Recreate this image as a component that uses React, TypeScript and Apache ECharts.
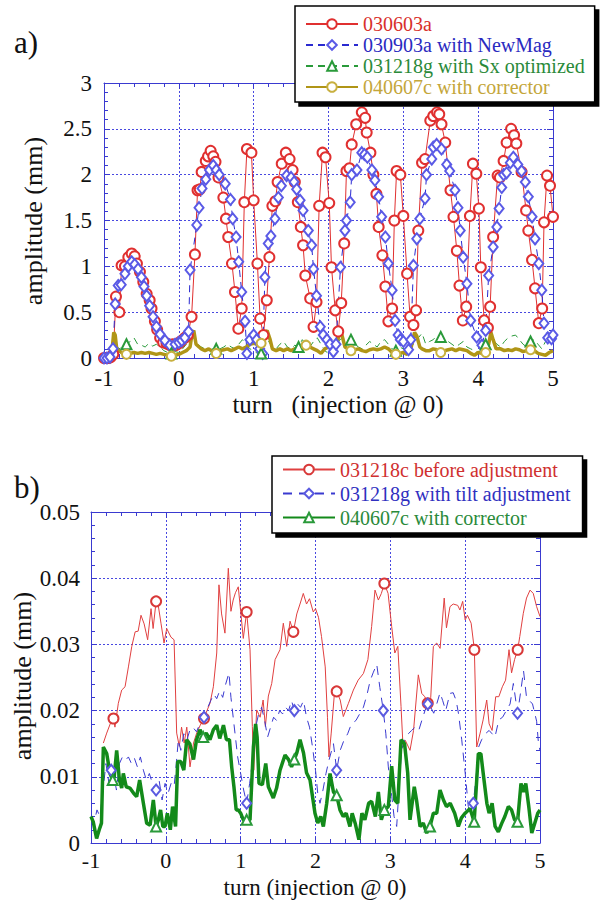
import React, { useEffect, useRef } from "react";
import * as echarts from "echarts";

// ---------- Chart a) data: [turn, amplitude (mm)] ----------
const redA: number[][] = [
  [-1.0, 0.0], [-0.97, 0.0], [-0.94, 0.0], [-0.91, 0.01], [-0.876, 0.04], [-0.84, 0.67], [-0.795, 0.5],
  [-0.765, 1.01], [-0.72, 1.0], [-0.675, 1.1], [-0.63, 1.14], [-0.59, 1.11], [-0.56, 1.03], [-0.52, 0.94],
  [-0.475, 0.83], [-0.43, 0.7], [-0.39, 0.63], [-0.365, 0.54], [-0.32, 0.4], [-0.29, 0.31], [-0.25, 0.22],
  [-0.21, 0.17], [-0.165, 0.16], [-0.12, 0.14], [-0.08, 0.15], [-0.04, 0.14], [0.0, 0.16], [0.025, 0.18],
  [0.08, 0.22], [0.12, 0.25], [0.17, 0.45], [0.215, 1.13], [0.25, 1.83], [0.28, 1.84], [0.305, 2.03],
  [0.36, 2.15], [0.39, 2.2], [0.425, 2.26], [0.46, 2.2], [0.49, 2.14], [0.53, 1.97], [0.595, 1.75],
  [0.63, 1.52], [0.66, 1.32], [0.71, 1.03], [0.75, 0.72], [0.795, 0.32], [0.84, 0.54], [0.875, 1.7],
  [0.91, 2.28], [0.97, 2.24], [1.0, 1.72], [1.05, 1.03], [1.086, 0.43], [1.13, 0.25], [1.175, 0.63],
  [1.21, 1.1], [1.25, 1.66], [1.29, 1.71], [1.32, 1.92], [1.375, 2.12], [1.43, 2.24], [1.48, 2.17],
  [1.52, 2.05], [1.55, 1.92], [1.59, 1.7], [1.63, 1.43], [1.66, 1.23], [1.69, 0.9], [1.755, 0.65],
  [1.8, 0.34], [1.84, 0.61], [1.875, 1.66], [1.92, 2.24], [1.96, 2.19], [2.01, 1.69], [2.04, 0.99],
  [2.09, 0.52], [2.13, 0.29], [2.17, 0.6], [2.21, 1.25], [2.24, 2.04], [2.28, 2.07], [2.31, 2.33],
  [2.37, 2.55], [2.445, 2.68], [2.49, 2.62], [2.51, 2.46], [2.56, 2.24], [2.6, 2.0], [2.64, 1.79],
  [2.67, 1.43], [2.72, 1.12], [2.76, 0.78], [2.8, 0.4], [2.85, 0.54], [2.88, 1.5], [2.91, 2.04],
  [2.96, 2.0], [3.0, 1.55], [3.05, 0.92], [3.09, 0.45], [3.135, 0.36], [3.17, 0.52], [3.2, 1.39],
  [3.25, 2.13], [3.29, 2.17], [3.36, 2.59], [3.4, 2.64], [3.45, 2.68], [3.48, 2.66], [3.51, 2.55],
  [3.56, 2.35], [3.63, 1.83], [3.67, 1.54], [3.715, 1.17], [3.75, 0.79], [3.795, 0.41], [3.84, 0.56],
  [3.89, 1.55], [3.93, 2.12], [3.975, 2.01], [4.01, 1.63], [4.035, 0.99], [4.08, 0.41], [4.13, 0.33],
  [4.16, 0.56], [4.2, 1.32], [4.26, 1.99], [4.29, 1.97], [4.34, 2.15], [4.38, 2.35], [4.44, 2.5],
  [4.48, 2.43], [4.51, 2.34], [4.58, 2.03], [4.64, 1.61], [4.67, 1.39], [4.72, 1.07], [4.76, 0.76],
  [4.81, 0.38], [4.855, 0.54], [4.88, 1.48], [4.92, 1.99], [4.96, 1.88], [5.0, 1.54],
];

const blueA: number[][] = [
  [-1.0, 0.0], [-0.96, 0.0], [-0.92, 0.01], [-0.88, 0.1], [-0.85, 0.59], [-0.81, 0.79], [-0.77, 0.8],
  [-0.72, 0.92], [-0.675, 1.0], [-0.63, 1.05], [-0.59, 1.02], [-0.545, 0.97], [-0.5, 0.88], [-0.465, 0.78],
  [-0.43, 0.68], [-0.39, 0.57], [-0.345, 0.45], [-0.3, 0.34], [-0.25, 0.26], [-0.185, 0.19], [-0.12, 0.14],
  [-0.05, 0.15], [0.0, 0.17], [0.04, 0.19], [0.08, 0.22], [0.13, 0.29], [0.15, 0.96], [0.24, 1.45],
  [0.27, 1.64], [0.31, 1.85], [0.36, 1.95], [0.41, 2.05], [0.46, 2.1], [0.5, 2.05], [0.54, 2.0],
  [0.62, 1.9], [0.69, 1.73], [0.72, 1.52], [0.765, 1.32], [0.8, 1.05], [0.84, 0.72], [0.885, 0.4],
  [0.91, 0.05], [0.95, 0.2], [1.0, 0.25], [1.04, 0.2], [1.08, 0.1], [1.12, 0.05], [1.15, 0.88],
  [1.195, 1.25], [1.23, 1.33], [1.285, 1.52], [1.33, 1.75], [1.37, 1.88], [1.44, 1.99], [1.5, 1.97],
  [1.54, 1.92], [1.575, 1.84], [1.62, 1.72], [1.66, 1.61], [1.73, 1.39], [1.775, 1.23], [1.8, 0.97],
  [1.84, 0.68], [1.89, 0.34], [1.93, 0.25], [1.98, 0.2], [2.02, 0.15], [2.065, 0.07], [2.1, 0.15],
  [2.16, 0.99], [2.22, 1.39], [2.24, 1.5], [2.29, 1.7], [2.31, 2.0], [2.38, 2.05], [2.445, 2.24],
  [2.48, 2.22], [2.52, 2.19], [2.58, 2.05], [2.62, 1.94], [2.67, 1.76], [2.71, 1.54], [2.76, 1.32],
  [2.8, 1.03], [2.85, 0.74], [2.89, 0.41], [2.93, 0.25], [2.96, 0.2], [3.0, 0.18], [3.07, 0.09],
  [3.1, 0.2], [3.135, 1.01], [3.18, 1.3], [3.22, 1.52], [3.29, 1.74], [3.31, 2.0], [3.38, 2.17],
  [3.4, 2.3], [3.445, 2.33], [3.51, 2.28], [3.58, 2.11], [3.62, 2.04], [3.69, 1.83], [3.73, 1.64],
  [3.76, 1.39], [3.8, 1.1], [3.85, 0.81], [3.9, 0.41], [3.98, 0.23], [4.05, 0.14], [4.1, 0.3],
  [4.14, 0.9], [4.2, 1.21], [4.25, 1.43], [4.28, 1.63], [4.315, 1.86], [4.34, 2.0], [4.38, 2.02],
  [4.43, 2.13], [4.47, 2.19], [4.53, 2.11], [4.58, 2.04], [4.63, 1.92], [4.67, 1.76], [4.72, 1.54],
  [4.76, 1.3], [4.81, 1.03], [4.85, 0.74], [4.88, 0.38], [4.93, 0.22], [4.98, 0.21], [5.0, 0.25],
];

const greenA: number[][] = [
  [-1.0, 0.0], [-0.95, 0.0], [-0.9, 0.02], [-0.87, 0.3], [-0.84, 0.15], [-0.8, 0.1], [-0.75, 0.12],
  [-0.7, 0.15], [-0.65, 0.18], [-0.6, 0.22], [-0.55, 0.15], [-0.5, 0.14], [-0.45, 0.12], [-0.4, 0.16],
  [-0.35, 0.13], [-0.3, 0.15], [-0.25, 0.12], [-0.2, 0.08], [-0.15, 0.06], [-0.1, 0.05], [-0.05, 0.07],
  [0.0, 0.06], [0.05, 0.1], [0.1, 0.15], [0.15, 0.18], [0.2, 0.22], [0.25, 0.15], [0.3, 0.12],
  [0.35, 0.1], [0.4, 0.08], [0.45, 0.1], [0.5, 0.1], [0.55, 0.1], [0.6, 0.12], [0.65, 0.15],
  [0.7, 0.12], [0.75, 0.1], [0.8, 0.15], [0.85, 0.2], [0.9, 0.15], [0.95, 0.1], [1.0, 0.08],
  [1.05, 0.05], [1.1, 0.05], [1.15, 0.2], [1.2, 0.18], [1.25, 0.12], [1.3, 0.1], [1.35, 0.15],
  [1.4, 0.18], [1.45, 0.12], [1.5, 0.1], [1.55, 0.14], [1.6, 0.12], [1.65, 0.2], [1.7, 0.15],
  [1.75, 0.12], [1.8, 0.18], [1.85, 0.22], [1.9, 0.15], [1.95, 0.08], [2.0, 0.05], [2.05, 0.08],
  [2.1, 0.12], [2.15, 0.2], [2.2, 0.22], [2.25, 0.18], [2.3, 0.2], [2.35, 0.15], [2.4, 0.12],
  [2.45, 0.1], [2.5, 0.14], [2.55, 0.18], [2.6, 0.15], [2.65, 0.12], [2.7, 0.18], [2.75, 0.2],
  [2.8, 0.15], [2.85, 0.1], [2.9, 0.08], [2.95, 0.12], [3.0, 0.1], [3.05, 0.06], [3.1, 0.1],
  [3.15, 0.18], [3.2, 0.22], [3.25, 0.27], [3.3, 0.15], [3.35, 0.18], [3.4, 0.2], [3.45, 0.25],
  [3.5, 0.23], [3.55, 0.2], [3.6, 0.18], [3.65, 0.15], [3.7, 0.12], [3.75, 0.15], [3.8, 0.18],
  [3.85, 0.12], [3.9, 0.1], [3.95, 0.08], [4.0, 0.06], [4.05, 0.1], [4.1, 0.15], [4.15, 0.18],
  [4.2, 0.2], [4.25, 0.15], [4.3, 0.12], [4.35, 0.18], [4.4, 0.22], [4.45, 0.24], [4.5, 0.25],
  [4.55, 0.2], [4.6, 0.15], [4.65, 0.12], [4.7, 0.18], [4.75, 0.2], [4.8, 0.15], [4.85, 0.1],
  [4.9, 0.18], [4.95, 0.22], [5.0, 0.2],
];
const greenAMarks = [-0.7, -0.1, 0.5, 1.1, 1.6, 2.3, 2.9, 3.5, 4.1, 4.7];

const goldA: number[][] = [
  [-1.0, 0.0], [-0.95, 0.0], [-0.9, 0.02], [-0.87, 0.28], [-0.85, 0.25], [-0.83, 0.1], [-0.8, 0.08],
  [-0.75, 0.05], [-0.7, 0.04], [-0.65, 0.05], [-0.6, 0.06], [-0.55, 0.05], [-0.5, 0.06], [-0.45, 0.05],
  [-0.4, 0.06], [-0.35, 0.05], [-0.3, 0.04], [-0.25, 0.05], [-0.2, 0.04], [-0.15, 0.03], [-0.1, 0.02],
  [-0.05, 0.03], [0.0, 0.04], [0.05, 0.06], [0.1, 0.08], [0.15, 0.12], [0.18, 0.28], [0.2, 0.3],
  [0.23, 0.15], [0.27, 0.12], [0.3, 0.1], [0.35, 0.08], [0.4, 0.1], [0.45, 0.07], [0.5, 0.05],
  [0.55, 0.08], [0.6, 0.09], [0.65, 0.1], [0.7, 0.08], [0.75, 0.1], [0.8, 0.12], [0.85, 0.1],
  [0.9, 0.12], [0.95, 0.15], [1.0, 0.16], [1.05, 0.15], [1.1, 0.16], [1.15, 0.28], [1.18, 0.3],
  [1.22, 0.2], [1.25, 0.1], [1.3, 0.08], [1.35, 0.1], [1.4, 0.08], [1.45, 0.1], [1.5, 0.08],
  [1.55, 0.1], [1.6, 0.12], [1.65, 0.1], [1.7, 0.14], [1.75, 0.12], [1.8, 0.1], [1.85, 0.08],
  [1.9, 0.05], [1.95, 0.1], [2.0, 0.12], [2.05, 0.15], [2.1, 0.12], [2.15, 0.28], [2.18, 0.25],
  [2.22, 0.12], [2.26, 0.1], [2.3, 0.08], [2.35, 0.09], [2.4, 0.1], [2.45, 0.08], [2.5, 0.07],
  [2.55, 0.09], [2.6, 0.1], [2.65, 0.09], [2.7, 0.1], [2.75, 0.12], [2.8, 0.1], [2.85, 0.06],
  [2.9, 0.04], [2.95, 0.05], [3.0, 0.06], [3.05, 0.04], [3.1, 0.1], [3.15, 0.28], [3.18, 0.24],
  [3.22, 0.12], [3.25, 0.1], [3.3, 0.08], [3.35, 0.08], [3.4, 0.1], [3.45, 0.09], [3.5, 0.06],
  [3.55, 0.08], [3.6, 0.09], [3.65, 0.1], [3.7, 0.08], [3.75, 0.1], [3.8, 0.09], [3.85, 0.08],
  [3.9, 0.05], [3.95, 0.03], [4.0, 0.06], [4.05, 0.05], [4.1, 0.06], [4.14, 0.15], [4.17, 0.28],
  [4.2, 0.2], [4.24, 0.1], [4.3, 0.1], [4.35, 0.08], [4.4, 0.09], [4.45, 0.08], [4.5, 0.1],
  [4.55, 0.09], [4.6, 0.07], [4.65, 0.08], [4.7, 0.09], [4.75, 0.08], [4.8, 0.05], [4.85, 0.04],
  [4.9, 0.03], [4.95, 0.06], [5.0, 0.08],
];
const goldAMarks = [-0.7, -0.1, 0.5, 1.1, 1.7, 2.3, 2.9, 3.5, 4.1, 4.7];

// ---------- Chart b) data ----------
const redB: number[][] = [
  [-0.835, 0.0151], [-0.79, 0.0166], [-0.733, 0.0183], [-0.7, 0.0188], [-0.68, 0.0175], [-0.635, 0.0211],
  [-0.59, 0.0231], [-0.545, 0.0236], [-0.5, 0.0266], [-0.455, 0.0297], [-0.41, 0.0319], [-0.37, 0.032],
  [-0.332, 0.0344], [-0.29, 0.0331], [-0.243, 0.0307], [-0.198, 0.0354], [-0.17, 0.0324], [-0.13, 0.0365],
  [-0.1, 0.0358], [-0.065, 0.0332], [-0.024, 0.0302], [0.012, 0.0324], [0.068, 0.0311], [0.11, 0.0307],
  [0.145, 0.0166], [0.18, 0.0146], [0.21, 0.0175], [0.245, 0.0151], [0.28, 0.0175], [0.323, 0.0115],
  [0.37, 0.0151], [0.412, 0.0166], [0.46, 0.0178], [0.51, 0.0188], [0.55, 0.02], [0.59, 0.0211],
  [0.635, 0.0236], [0.68, 0.0287], [0.71, 0.039], [0.745, 0.0346], [0.79, 0.0317], [0.835, 0.0415],
  [0.87, 0.035], [0.9, 0.0367], [0.93, 0.0378], [0.968, 0.0387], [1.0, 0.035], [1.035, 0.0309],
  [1.08, 0.0349], [1.125, 0.0292], [1.156, 0.0176], [1.175, 0.011], [1.214, 0.0201], [1.26, 0.019],
  [1.3, 0.0216], [1.33, 0.0176], [1.37, 0.0222], [1.415, 0.0241], [1.46, 0.0277], [1.526, 0.0292],
  [1.57, 0.0332], [1.615, 0.0297], [1.66, 0.0335], [1.704, 0.0319], [1.75, 0.0346], [1.793, 0.0361],
  [1.837, 0.0377], [1.88, 0.0361], [1.92, 0.0369], [1.97, 0.0349], [2.0, 0.0354], [2.04, 0.0341],
  [2.08, 0.0312], [2.13, 0.0266], [2.16, 0.019], [2.18, 0.013], [2.21, 0.0166], [2.25, 0.0222],
  [2.283, 0.0229], [2.33, 0.0216], [2.372, 0.0191], [2.44, 0.0211], [2.506, 0.0231], [2.57, 0.0246],
  [2.64, 0.0256], [2.7, 0.0277], [2.75, 0.0327], [2.795, 0.0382], [2.84, 0.0367], [2.88, 0.0377],
  [2.92, 0.0392], [2.97, 0.0377], [3.018, 0.0327], [3.06, 0.0287], [3.1, 0.0297], [3.143, 0.0206],
  [3.17, 0.0145], [3.2, 0.0155], [3.263, 0.014], [3.31, 0.017], [3.374, 0.0254], [3.42, 0.0226],
  [3.46, 0.0221], [3.5, 0.0211], [3.54, 0.022], [3.575, 0.0297], [3.62, 0.0302], [3.665, 0.0294],
  [3.72, 0.037], [3.75, 0.0325], [3.797, 0.0357], [3.84, 0.0361], [3.9, 0.0359], [3.93, 0.0352],
  [3.967, 0.0365], [4.0, 0.0337], [4.03, 0.0344], [4.08, 0.0332], [4.123, 0.0292], [4.154, 0.0145],
  [4.2, 0.0166], [4.24, 0.0186], [4.288, 0.0216], [4.32, 0.018], [4.36, 0.017], [4.408, 0.0221],
  [4.45, 0.0221], [4.497, 0.0236], [4.54, 0.0246], [4.586, 0.0292], [4.62, 0.0257], [4.66, 0.0277],
  [4.702, 0.0292], [4.73, 0.0312], [4.777, 0.0347], [4.82, 0.037], [4.867, 0.0382], [4.91, 0.0377],
  [4.955, 0.0357], [5.0, 0.0342],
];
const redBMarks = [-0.7, -0.13, 0.51, 1.08, 1.704, 2.283, 2.92, 3.5, 4.123, 4.702];

const blueB: number[][] = [
  [-1.0, 0.004], [-0.96, 0.003], [-0.92, 0.005], [-0.88, 0.004], [-0.84, 0.008], [-0.8, 0.012],
  [-0.76, 0.009], [-0.73, 0.011], [-0.7, 0.0105], [-0.66, 0.008], [-0.62, 0.012], [-0.58, 0.013],
  [-0.54, 0.0125], [-0.5, 0.013], [-0.46, 0.012], [-0.42, 0.0128], [-0.38, 0.0115], [-0.34, 0.013],
  [-0.3, 0.011], [-0.26, 0.0095], [-0.22, 0.0105], [-0.18, 0.009], [-0.13, 0.008], [-0.09, 0.0095],
  [-0.05, 0.0065], [-0.01, 0.009], [0.03, 0.0075], [0.07, 0.009], [0.11, 0.0085], [0.14, 0.012],
  [0.167, 0.0156], [0.2, 0.014], [0.24, 0.0165], [0.28, 0.0155], [0.32, 0.017], [0.36, 0.0175],
  [0.41, 0.0168], [0.46, 0.0182], [0.51, 0.019], [0.56, 0.0205], [0.6, 0.0215], [0.64, 0.0225],
  [0.68, 0.0218], [0.72, 0.023], [0.76, 0.022], [0.8, 0.024], [0.844, 0.0257], [0.87, 0.022],
  [0.9, 0.019], [0.93, 0.016], [0.96, 0.013], [1.0, 0.0105], [1.04, 0.008], [1.08, 0.006],
  [1.12, 0.009], [1.16, 0.0125], [1.2, 0.0175], [1.24, 0.0195], [1.28, 0.0205], [1.32, 0.0185],
  [1.36, 0.016], [1.4, 0.0175], [1.44, 0.019], [1.48, 0.0185], [1.52, 0.02], [1.56, 0.0195],
  [1.6, 0.0205], [1.64, 0.02], [1.68, 0.0215], [1.717, 0.02], [1.76, 0.021], [1.8, 0.0205],
  [1.84, 0.0215], [1.88, 0.019], [1.92, 0.0175], [1.96, 0.0145], [2.0, 0.011], [2.03, 0.0075],
  [2.06, 0.006], [2.1, 0.008], [2.14, 0.0105], [2.18, 0.0125], [2.24, 0.015], [2.283, 0.011],
  [2.33, 0.014], [2.38, 0.0155], [2.43, 0.0165], [2.48, 0.018], [2.54, 0.0185], [2.595, 0.0196],
  [2.64, 0.0205], [2.69, 0.0225], [2.73, 0.0245], [2.77, 0.0257], [2.818, 0.027], [2.86, 0.0235],
  [2.906, 0.02], [2.94, 0.0165], [2.973, 0.0115], [3.02, 0.007], [3.05, 0.004], [3.085, 0.0025],
  [3.12, 0.009], [3.15, 0.014], [3.2, 0.016], [3.24, 0.0165], [3.285, 0.017], [3.33, 0.0175],
  [3.38, 0.017], [3.42, 0.0185], [3.463, 0.02], [3.5, 0.021], [3.54, 0.0205], [3.58, 0.0196],
  [3.62, 0.021], [3.664, 0.0227], [3.7, 0.0215], [3.74, 0.02], [3.797, 0.0226], [3.84, 0.0227],
  [3.88, 0.0215], [3.91, 0.0196], [3.954, 0.0156], [4.0, 0.0106], [4.042, 0.0055], [4.07, 0.0045],
  [4.109, 0.006], [4.15, 0.0105], [4.18, 0.0145], [4.22, 0.0156], [4.27, 0.0165], [4.32, 0.017],
  [4.36, 0.0165], [4.398, 0.016], [4.45, 0.0186], [4.5, 0.019], [4.55, 0.02], [4.6, 0.021],
  [4.644, 0.0241], [4.7, 0.0196], [4.74, 0.0227], [4.78, 0.026], [4.82, 0.022], [4.86, 0.0215],
  [4.9, 0.021], [4.955, 0.0184], [4.98, 0.015], [5.0, 0.014],
];
const blueBMarks = [-0.73, -0.13, 0.51, 1.08, 1.717, 2.283, 2.906, 3.5, 4.109, 4.7];

const greenB: number[][] = [
  [-1.0, 0.004], [-0.97, 0.0032], [-0.94, 0.0015], [-0.925, 0.0007], [-0.89, 0.002], [-0.86, 0.003],
  [-0.835, 0.0145], [-0.79, 0.0135], [-0.746, 0.0105], [-0.71, 0.0095], [-0.69, 0.01], [-0.657, 0.014],
  [-0.62, 0.0095], [-0.59, 0.0083], [-0.568, 0.0105], [-0.53, 0.0085], [-0.48, 0.0083], [-0.43, 0.0075],
  [-0.39, 0.007], [-0.35, 0.0095], [-0.3, 0.006], [-0.256, 0.003], [-0.21, 0.0027], [-0.167, 0.0065],
  [-0.13, 0.0025], [-0.1, 0.0035], [-0.07, 0.005], [-0.04, 0.0025], [-0.011, 0.0025], [0.02, 0.0045],
  [0.06, 0.002], [0.09, 0.0055], [0.13, 0.0025], [0.158, 0.0123], [0.2, 0.0123], [0.24, 0.011],
  [0.279, 0.0156], [0.32, 0.015], [0.37, 0.0126], [0.41, 0.0156], [0.457, 0.0171], [0.5, 0.016],
  [0.54, 0.0166], [0.59, 0.0156], [0.635, 0.0171], [0.68, 0.0178], [0.72, 0.0158], [0.77, 0.0178],
  [0.81, 0.0156], [0.85, 0.0156], [0.88, 0.0115], [0.91, 0.0085], [0.94, 0.005], [0.968, 0.005],
  [1.0, 0.0045], [1.035, 0.0035], [1.08, 0.0035], [1.125, 0.0035], [1.17, 0.0145], [1.2, 0.018],
  [1.22, 0.016], [1.245, 0.009], [1.29, 0.0088], [1.335, 0.012], [1.37, 0.0085], [1.436, 0.0068],
  [1.48, 0.0083], [1.526, 0.011], [1.593, 0.0133], [1.64, 0.0126], [1.68, 0.0115], [1.717, 0.0126],
  [1.75, 0.0136], [1.793, 0.0156], [1.84, 0.0136], [1.88, 0.0106], [1.927, 0.0095], [1.993, 0.0045],
  [2.03, 0.003], [2.07, 0.004], [2.105, 0.0025], [2.15, 0.006], [2.194, 0.0105], [2.24, 0.0077],
  [2.283, 0.0072], [2.327, 0.005], [2.37, 0.004], [2.41, 0.0045], [2.46, 0.0025], [2.49, 0.0045],
  [2.53, 0.003], [2.58, 0.0005], [2.62, 0.0045], [2.66, 0.0035], [2.71, 0.006], [2.75, 0.0063],
  [2.8, 0.004], [2.84, 0.0077], [2.88, 0.0035], [2.92, 0.005], [2.973, 0.0055], [3.018, 0.0116],
  [3.06, 0.0065], [3.1, 0.006], [3.143, 0.0156], [3.19, 0.015], [3.232, 0.0106], [3.263, 0.0035],
  [3.32, 0.0085], [3.35, 0.0065], [3.397, 0.0025], [3.44, 0.003], [3.486, 0.0015], [3.53, 0.0025],
  [3.575, 0.0045], [3.62, 0.0045], [3.664, 0.008], [3.71, 0.0065], [3.75, 0.0055], [3.8, 0.006],
  [3.86, 0.0045], [3.909, 0.0025], [3.95, 0.0038], [4.0, 0.0045], [4.065, 0.0052], [4.12, 0.0032],
  [4.176, 0.0135], [4.21, 0.0135], [4.24, 0.0106], [4.29, 0.006], [4.32, 0.0045], [4.36, 0.006],
  [4.4, 0.0025], [4.443, 0.0017], [4.49, 0.003], [4.53, 0.004], [4.577, 0.0055], [4.62, 0.005],
  [4.66, 0.0035], [4.7, 0.0032], [4.746, 0.009], [4.78, 0.0077], [4.81, 0.009], [4.85, 0.0055],
  [4.89, 0.0015], [4.93, 0.003], [4.97, 0.0045], [5.0, 0.005],
];
const greenBMarks = [-0.71, -0.13, 0.5, 1.08, 1.717, 2.283, 2.92, 3.53, 4.12, 4.7];

const xTicks = [-1, 0, 1, 2, 3, 4, 5];
const yTicksA = [0, 0.5, 1, 1.5, 2, 2.5, 3];
const yTicksB = [0, 0.01, 0.02, 0.03, 0.04, 0.05];

const SERIF = "Liberation Serif";
const AXIS_BLUE = "#3a3ad0";

function marked(pts: number[][], marks: number[] | null) {
  return pts.map(([x, y]) => {
    if (!marks || marks.some((m) => Math.abs(m - x) < 1e-6)) return [x, y];
    return { value: [x, y], symbol: "none" };
  });
}

function makeX(gridIndex: number, ticks: number[], top: boolean, margin: number, size: number) {
  return {
    gridIndex,
    type: "value",
    position: top ? "top" : "bottom",
    min: ticks[0],
    max: ticks[ticks.length - 1],
    interval: ticks[1] - ticks[0],
    axisLine: { show: true, onZero: false, lineStyle: { color: AXIS_BLUE, width: 1 } },
    axisTick: { show: true, inside: true, length: 6, lineStyle: { color: AXIS_BLUE } },
    minorTick: { show: true, splitNumber: 5, length: 4, lineStyle: { color: AXIS_BLUE } },
    splitLine: { show: !top, lineStyle: { color: "#4848e0", type: [2, 2], width: 1 } },
    axisLabel: {
      show: !top,
      fontFamily: SERIF,
      fontSize: size,
      color: "#111",
      margin,
    },
  };
}

function makeY(gridIndex: number, ticks: number[], right: boolean, margin: number) {
  return {
    gridIndex,
    type: "value",
    position: right ? "right" : "left",
    min: ticks[0],
    max: ticks[ticks.length - 1],
    interval: ticks[1] - ticks[0],
    axisLine: { show: true, onZero: false, lineStyle: { color: AXIS_BLUE, width: 1 } },
    axisTick: { show: true, inside: true, length: 6, lineStyle: { color: AXIS_BLUE } },
    minorTick: { show: true, splitNumber: 5, length: 4, lineStyle: { color: AXIS_BLUE } },
    splitLine: { show: !right, lineStyle: { color: "#4848e0", type: [2, 2], width: 1 } },
    axisLabel: {
      show: !right,
      fontFamily: SERIF,
      fontSize: 23,
      color: "#111",
      margin,
    },
  };
}

function centeredText(text: string, x: number, y: number, size: number, rotate: boolean) {
  return {
    type: "text",
    x,
    y,
    rotation: rotate ? Math.PI / 2 : 0,
    style: {
      text,
      fontFamily: SERIF,
      fontSize: size,
      fill: "#111",
      textAlign: "center",
      textVerticalAlign: "middle",
      align: "center",
      verticalAlign: "middle",
    },
  };
}

export default function App() {
  const ref = useRef<HTMLDivElement>(null);

  useEffect(() => {
    if (!ref.current) return;
    const chart = echarts.init(ref.current, null, { renderer: "svg" });

    const legendBase = {
      orient: "vertical",
      backgroundColor: "#fff",
      borderColor: "#000",
      borderWidth: 1.5,
      borderRadius: 0,
      shadowColor: "#000",
      shadowBlur: 0,
      shadowOffsetX: 4,
      shadowOffsetY: 4,
      itemWidth: 52,
      itemHeight: 12,
      selectedMode: false,
    };

    const option: any = {
      animation: false,
      backgroundColor: "#fff",
      textStyle: { fontFamily: SERIF },
      grid: [
        { left: 104, top: 83, width: 449, height: 275 },
        { left: 91, top: 512, width: 449, height: 331 },
      ],
      xAxis: [
        makeX(0, xTicks, false, 9, 23),
        makeX(0, xTicks, true, 9, 23),
        makeX(1, xTicks, false, 6, 22),
        makeX(1, xTicks, true, 6, 22),
      ],
      yAxis: [
        makeY(0, yTicksA, false, 12),
        makeY(0, yTicksA, true, 12),
        makeY(1, yTicksB, false, 11),
        makeY(1, yTicksB, true, 11),
      ],
      legend: [
        {
          ...legendBase,
          left: 295,
          top: 6,
          padding: [8, 10, 5, 10],
          itemGap: 1,
          textStyle: { fontFamily: SERIF, fontSize: 20, lineHeight: 20 },
          data: [
            { name: "030603a", textStyle: { color: "#d8302c" } },
            { name: "030903a with NewMag", textStyle: { color: "#2a2ac0" } },
            { name: "031218g with Sx optimized", textStyle: { color: "#2a8a3a" } },
            { name: "040607c with corrector", textStyle: { color: "#c4a63a" } },
          ],
        },
        {
          ...legendBase,
          left: 272,
          top: 456,
          padding: [2, 12, 4, 10],
          itemGap: 1,
          textStyle: { fontFamily: SERIF, fontSize: 20, lineHeight: 23 },
          data: [
            { name: "031218c before adjustment", textStyle: { color: "#d03030" } },
            { name: "031218g with tilt adjustment", textStyle: { color: "#3030c0" } },
            { name: "040607c with corrector ", textStyle: { color: "#2a8a3a" } },
          ],
        },
      ],
      series: [
        {
          name: "030603a",
          type: "line",
          xAxisIndex: 0,
          yAxisIndex: 0,
          data: marked(redA, null),
          symbol: "emptyCircle",
          symbolSize: 10,
          lineStyle: { color: "#e03030", width: 1 },
          itemStyle: { color: "#e03030", borderWidth: 1 },
        },
        {
          name: "030903a with NewMag",
          type: "line",
          xAxisIndex: 0,
          yAxisIndex: 0,
          data: marked(blueA, null),
          symbol: "emptyDiamond",
          symbolSize: [9, 11],
          lineStyle: { color: "#2a2ad0", width: 1, type: [7, 5] },
          itemStyle: { color: "#5a5ae6", borderWidth: 1 },
        },
        {
          name: "031218g with Sx optimized",
          type: "line",
          xAxisIndex: 0,
          yAxisIndex: 0,
          data: marked(greenA, greenAMarks),
          symbol: "emptyTriangle",
          symbolSize: 10,
          lineStyle: { color: "#2a9a3a", width: 1, type: [7, 5] },
          itemStyle: { color: "#2a9a3a", borderWidth: 1 },
        },
        {
          name: "040607c with corrector",
          type: "line",
          xAxisIndex: 0,
          yAxisIndex: 0,
          data: marked(goldA, goldAMarks),
          symbol: "emptyCircle",
          symbolSize: 9,
          lineStyle: { color: "#b09516", width: 3.5 },
          itemStyle: { color: "#c8b040", borderWidth: 1 },
        },
        {
          name: "031218c before adjustment",
          type: "line",
          xAxisIndex: 2,
          yAxisIndex: 2,
          data: marked(redB, redBMarks),
          symbol: "emptyCircle",
          symbolSize: 10,
          lineStyle: { color: "#e04040", width: 1 },
          itemStyle: { color: "#d83838", borderWidth: 1 },
        },
        {
          name: "031218g with tilt adjustment",
          type: "line",
          xAxisIndex: 2,
          yAxisIndex: 2,
          data: marked(blueB, blueBMarks),
          symbol: "emptyDiamond",
          symbolSize: [9, 11],
          lineStyle: { color: "#3a3ad0", width: 1, type: [9, 7] },
          itemStyle: { color: "#5a5ae0", borderWidth: 1 },
        },
        {
          name: "040607c with corrector ",
          type: "line",
          xAxisIndex: 2,
          yAxisIndex: 2,
          data: marked(greenB, greenBMarks),
          symbol: "emptyTriangle",
          symbolSize: 10,
          lineStyle: { color: "#138a1a", width: 3.5 },
          itemStyle: { color: "#2a9a3a", borderWidth: 1 },
        },
      ],
      graphic: [
        {
          type: "text",
          left: 14,
          top: 27,
          style: { text: "a)", fontFamily: SERIF, fontSize: 31, fill: "#111" },
        },
        {
          type: "text",
          left: 14,
          top: 472,
          style: { text: "b)", fontFamily: SERIF, fontSize: 31, fill: "#111" },
        },
        centeredText("amplitude (mm)", 33, 221, 26, true),
        centeredText("amplitude (mm)", 22, 676, 26, true),
        centeredText("turn   (injection @ 0)", 338, 404, 25, false),
        centeredText("turn (injection @ 0)", 315, 887, 23, false),
      ],
    };

    chart.setOption(option);
    return () => chart.dispose();
  }, []);

  return (
    <div
      ref={ref}
      style={{ position: "absolute", left: 0, top: 0, width: 601, height: 900, background: "#fff" }}
    />
  );
}
